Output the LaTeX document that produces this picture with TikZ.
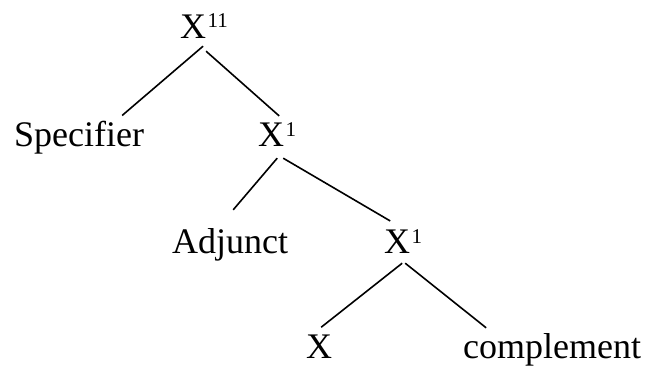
\documentclass[tikz,border=0pt]{standalone}
\usepackage{fontspec}
\setmainfont{Liberation Serif}
\newcommand{\supnum}[1]{\kern1.5pt\raisebox{10pt}{\fontsize{21}{22}\selectfont #1}}
\begin{document}
\begin{tikzpicture}[x=1pt,y=-1pt,
  lbl/.style={inner sep=0pt,anchor=base west,font=\fontsize{36}{40}\selectfont},
  edge/.style={line width=1.6pt}]
\useasboundingbox (0,0) rectangle (652,369);
\node[lbl] (top) at (180,38) {X\supnum{11}};
\node[lbl] (spec) at (14,146) {Specifier};
\node[lbl] (mid) at (258,146) {X\supnum{1}};
\node[lbl] (adj) at (172,253) {Adjunct};
\node[lbl] (low) at (384,253) {X\supnum{1}};
\node[lbl] (xb) at (306,358) {X};
\node[lbl] (comp) at (463,358) {complement};
\draw[edge] ([shift={(-1,8)}]top.south) -- ([shift={(43,-5)}]spec.north);
\draw[edge] ([shift={(2,13)}]top.south) -- ([shift={(2,-6)}]mid.north);
\draw[edge] ([shift={(0,12)}]mid.south) -- ([shift={(3,-18)}]adj.north);
\draw[edge] ([shift={(6,12)}]mid.south) -- ([shift={(-13,-8)}]low.north);
\draw[edge] ([shift={(-1,10)}]low.south) -- ([shift={(2,-7)}]xb.north);
\draw[edge] ([shift={(2,10)}]low.south) -- ([shift={(-66,-5)}]comp.north);
\end{tikzpicture}
\end{document}
